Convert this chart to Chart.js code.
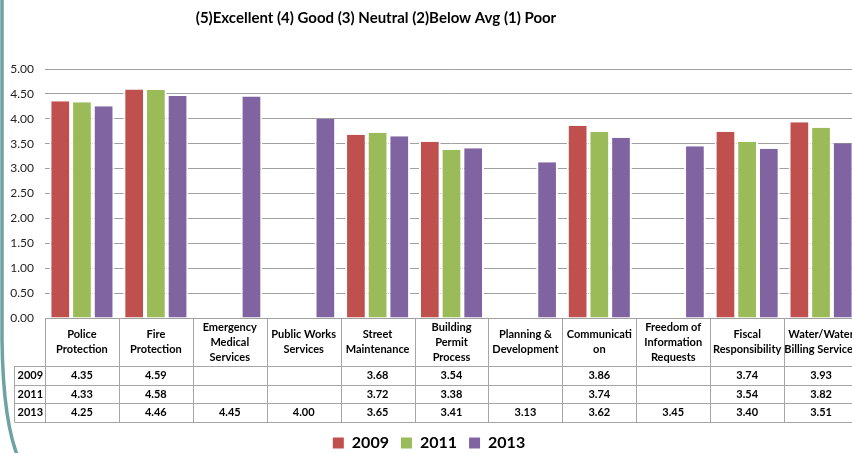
<!DOCTYPE html>
<html>
<head>
<meta charset="utf-8">
<script src="https://cdn.jsdelivr.net/npm/chart.js@4/dist/chart.umd.min.js"></script>
<style>
  html, body { margin: 0; padding: 0; background: #fff; }
  #wrap { width: 852px; height: 453px; overflow: hidden; position: relative; }
  #c { display: block; }
</style>
</head>
<body>
<div id="wrap"><canvas id="c" width="870" height="461"></canvas></div>
<script>
// Survey ratings by service, 1 (Poor) to 5 (Excellent)
const categories = [
  ["Police", "Protection"],
  ["Fire", "Protection"],
  ["Emergency", "Medical", "Services"],
  ["Public Works", "Services"],
  ["Street", "Maintenance"],
  ["Building", "Permit", "Process"],
  ["Planning &", "Development"],
  ["Communicati", "on"],
  ["Freedom of", "Information", "Requests"],
  ["Fiscal", "Responsibility"],
  ["Water/Water", "Billing Services"]
];
const years = ["2009", "2011", "2013"];
const values2009 = [4.35, 4.59, null, null, 3.68, 3.54, null, 3.86, null, 3.74, 3.93];
const values2011 = [4.33, 4.58, null, null, 3.72, 3.38, null, 3.74, null, 3.54, 3.82];
const values2013 = [4.25, 4.46, 4.45, 4.00, 3.65, 3.41, 3.13, 3.62, 3.45, 3.40, 3.51];
const titleText = "(5)Excellent (4) Good (3) Neutral (2)Below Avg (1) Poor";

const seriesColors = ["#C0504D", "#9BBB59", "#8064A2"];
const seriesValues = [values2009, values2011, values2013];
const FONT = "Lato, 'Open Sans', sans-serif";

// Data table under the plot, laid out on the category scale
const dataTable = {
  id: 'dataTable',
  afterDraw(chart) {
    const ctx = chart.ctx;
    const x = chart.scales.x;
    const area = chart.chartArea;
    const n = categories.length;
    const colW = (area.right - area.left) / n;
    const top = area.bottom;
    const headH = 48;
    const rowH = 18.67;
    const bottom = top + headH + rowH * 3;
    const labelLeft = 14.5;
    ctx.save();
    ctx.strokeStyle = '#a6a6a6';
    ctx.lineWidth = 1;
    ctx.beginPath();
    // vertical column borders
    for (let i = 0; i <= n; i++) {
      const px = Math.round(x.getPixelForValue(i) - colW / 2) + 0.5;
      ctx.moveTo(px, top);
      ctx.lineTo(px, bottom);
    }
    ctx.moveTo(labelLeft, top + headH);
    ctx.lineTo(labelLeft, bottom);
    // horizontal row borders
    for (let r = 0; r <= 3; r++) {
      const py = Math.round(top + headH + rowH * r) + 0.5;
      ctx.moveTo(labelLeft, py);
      ctx.lineTo(area.right + colW, py);
    }
    ctx.stroke();

    ctx.fillStyle = '#000';
    ctx.font = "bold 11px " + FONT;
    ctx.textAlign = 'center';
    ctx.textBaseline = 'middle';
    const lineGap = 15;
    categories.forEach((lines, i) => {
      const cx = x.getPixelForValue(i);
      const cy = top + headH / 2;
      lines.forEach((t, k) => {
        ctx.fillText(t, cx, cy + (k - (lines.length - 1) / 2) * lineGap);
      });
    });
    seriesValues.forEach((vals, r) => {
      const cy = top + headH + rowH * (r + 0.5);
      ctx.textAlign = 'left';
      ctx.fillText(years[r], labelLeft + 3, cy);
      ctx.textAlign = 'center';
      vals.forEach((v, i) => {
        if (v !== null) ctx.fillText(v.toFixed(2), x.getPixelForValue(i), cy);
      });
    });
    ctx.restore();
  }
};

// Heading text and the slide's curved left rule
const decor = {
  id: 'decor',
  afterDraw(chart) {
    const ctx = chart.ctx;
    ctx.save();
    ctx.fillStyle = '#000';
    ctx.font = "bold 15px " + FONT;
    ctx.textAlign = 'center';
    ctx.textBaseline = 'middle';
    ctx.fillText(titleText, 376, 18);
    ctx.strokeStyle = '#6fa3a3';
    ctx.lineWidth = 3.5;
    ctx.beginPath();
    ctx.moveTo(2, -2);
    ctx.lineTo(2, 340);
    ctx.quadraticCurveTo(3, 425, 20, 462);
    ctx.stroke();
    ctx.restore();
  }
};

new Chart(document.getElementById('c'), {
  type: 'bar',
  data: {
    labels: categories,
    datasets: years.map((y, i) => ({
      label: y,
      data: seriesValues[i],
      backgroundColor: seriesColors[i],
      borderColor: '#ffffff',
      borderWidth: { left: 2, right: 2, top: 0, bottom: 0 },
      borderSkipped: false,
      categoryPercentage: 0.88,
      barPercentage: 1.0
    }))
  },
  options: {
    responsive: false,
    animation: false,
    devicePixelRatio: 1,
    layout: { padding: { top: 69, left: 0, right: 12, bottom: 0 } },
    scales: {
      x: {
        ticks: { display: false },
        grid: { display: false },
        border: { display: false },
        afterFit(scale) { scale.height = 105; }
      },
      y: {
        min: 0,
        max: 5,
        ticks: {
          stepSize: 0.5,
          padding: 11,
          color: '#222',
          font: { family: FONT, size: 12 },
          callback: v => Number(v).toFixed(2)
        },
        grid: { color: '#a0a0a0', drawTicks: false },
        border: { display: false },
        afterFit(scale) { scale.width = 45; }
      }
    },
    plugins: {
      title: { display: false },
      tooltip: { enabled: false },
      legend: {
        position: 'bottom',
        labels: {
          boxWidth: 11,
          boxHeight: 11,
          padding: 12,
          color: '#000',
          font: { family: FONT, size: 16, weight: 'bold' },
          generateLabels(chart) {
            return Chart.defaults.plugins.legend.labels.generateLabels(chart)
              .map(l => Object.assign({}, l, { lineWidth: 0, strokeStyle: l.fillStyle }));
          }
        }
      }
    }
  },
  plugins: [dataTable, decor]
});
</script>
</body>
</html>
